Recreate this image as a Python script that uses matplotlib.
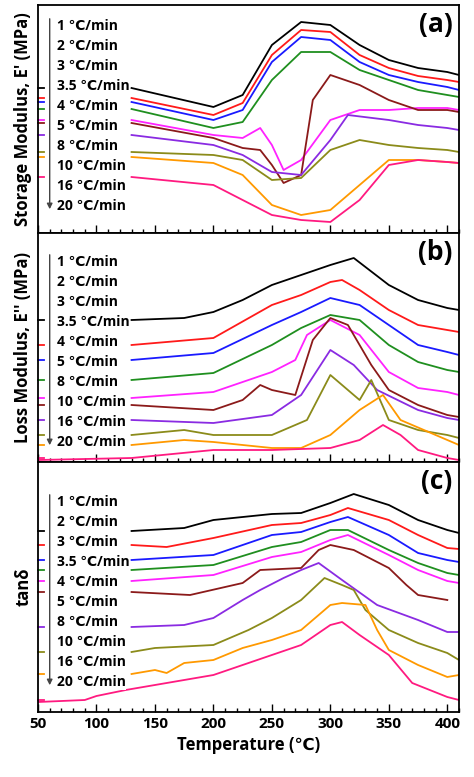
import matplotlib
matplotlib.use("Agg")
import matplotlib.pyplot as plt
import matplotlib.transforms as mtransforms
from matplotlib.ticker import MultipleLocator

plt.rcParams['font.family'] = ['Open Sans', 'DejaVu Sans']
plt.rcParams['font.weight'] = 'bold'

rates = ["1 ℃/min", "2 ℃/min", "3 ℃/min", "3.5 ℃/min", "4 ℃/min",
         "5 ℃/min", "8 ℃/min", "10 ℃/min", "16 ℃/min", "20 ℃/min"]
colors = ["#000000", "#ff1a1a", "#1a1aff", "#1f8f1f", "#ff22ff",
          "#8b1a1a", "#8a2be2", "#8b8b1a", "#ff9900", "#ff1a80"]

# Panel (a) storage modulus (relative level, larger = lower on chart)
a_x = [
 [130,200,225,250,275,300,325,350,375,400,410],
 [130,200,225,250,275,300,325,350,375,400,410],
 [130,200,225,250,275,300,325,350,375,400,410],
 [130,200,225,250,275,300,325,350,375,400,410],
 [130,200,225,240,250,260,275,300,325,350,375,400,410],
 [130,200,225,240,250,260,275,285,300,325,350,375,400,410],
 [130,200,225,250,275,300,315,350,375,400,410],
 [130,200,225,250,275,300,325,350,375,400,410],
 [130,200,225,250,275,300,325,350,375,400,410],
 [130,200,225,250,275,300,325,350,375,400,410],
]
a_y = [
 [88,107,95,45,22,25,45,60,68,72,75],
 [98,115,103,55,30,32,55,68,76,80,82],
 [102,120,110,62,37,40,62,75,82,87,90],
 [109,128,122,80,52,52,70,80,90,95,97],
 [120,135,138,128,145,170,160,120,110,110,108,108,110],
 [123,138,148,150,165,183,175,100,75,85,100,110,110,112],
 [135,145,155,172,175,140,115,120,125,128,130],
 [152,155,160,180,178,150,140,145,148,150,152],
 [157,163,175,205,215,210,185,160,160,162,163],
 [177,185,200,215,220,222,200,165,160,162,163],
]

# Panel (b) loss modulus
b_x = [
 [130,175,200,225,250,275,300,320,350,375,400,410],
 [130,200,250,275,300,310,325,350,375,400,410],
 [130,200,250,275,300,325,350,375,400,410],
 [130,200,250,275,300,325,350,375,400,410],
 [130,200,250,270,280,300,325,350,375,400,410],
 [130,200,225,240,250,270,285,300,315,335,350,375,400,410],
 [130,200,250,275,300,320,340,375,400,410],
 [130,175,200,250,280,300,325,335,350,375,400,410],
 [130,175,200,250,275,300,325,345,360,400,410],
 [50,130,200,250,300,325,345,360,375,400,410],
]
b_y = [
 [320,318,312,300,285,275,265,258,285,300,308,310],
 [345,338,305,295,282,280,290,310,325,330,332],
 [360,353,325,312,298,305,325,345,352,355],
 [380,373,345,328,315,320,345,362,370,372],
 [398,392,372,360,335,320,335,372,388,392,395],
 [405,410,400,385,390,395,340,318,325,365,390,405,415,417],
 [420,423,415,395,350,365,390,410,418,420],
 [435,430,435,435,420,375,400,380,420,430,435,438],
 [445,440,442,448,448,435,410,395,420,440,445],
 [460,458,450,450,448,440,425,435,450,458,460],
]

# Panel (c) tan delta
c_x = [
 [130,175,200,250,275,300,320,350,375,400,410],
 [130,160,200,250,275,300,315,350,375,400,410],
 [130,200,250,275,300,315,350,375,400,410],
 [130,200,250,275,300,315,350,375,400,410],
 [130,200,250,275,300,315,350,375,400,410],
 [130,180,225,240,275,290,300,320,350,365,375,400],
 [130,175,200,225,240,260,275,290,310,340,375,400,410],
 [130,150,200,230,250,275,295,310,320,330,350,375,400,410],
 [130,150,160,175,200,225,250,275,300,310,330,340,350,375,400,410],
 [50,90,100,125,150,175,200,225,250,275,300,310,325,350,370,385,400,410],
]
c_y = [
 [531,528,520,514,513,503,494,505,520,530,533],
 [545,547,538,525,523,515,508,520,535,548,549],
 [560,555,535,532,522,517,535,553,560,562],
 [570,565,547,542,530,530,550,563,573,575],
 [581,575,557,552,540,535,555,570,581,583],
 [592,595,583,570,568,550,545,550,568,585,595,600],
 [627,625,618,600,590,578,570,563,580,605,620,632,632],
 [652,648,645,630,618,600,578,585,590,610,630,643,653,660],
 [674,670,673,663,660,648,640,630,605,603,605,630,650,665,677,675],
 [702,700,696,690,685,680,675,665,655,645,625,622,635,655,683,690,697,700],
]

panels = [
    dict(xs=a_x, ys=a_y, top=5, bot=233, first=26, ylabel="Storage Modulus, E' (MPa)", tag="(a)"),
    dict(xs=b_x, ys=b_y, top=233, bot=462, first=262, ylabel="Loss Modulus, E'' (MPa)", tag="(b)"),
    dict(xs=c_x, ys=c_y, top=462, bot=712, first=502, ylabel="tanδ", tag="(c)"),
]

H = 777.0
fig = plt.figure(figsize=(4.74, 7.77), dpi=100)
left, width = 38/474, (459-38)/474
for i, p in enumerate(panels):
    ax = fig.add_axes([left, 1 - p['bot']/H, width, (p['bot']-p['top'])/H])
    ax.set_xlim(50, 410)
    ax.set_ylim(p['bot'], p['top'])
    tr = mtransforms.blended_transform_factory(ax.transAxes, ax.transData)
    for xs, ys, c in zip(p['xs'], p['ys'], colors):
        ax.plot(xs, ys, color=c, lw=1.3)
        ax.plot([0, 0.014], [ys[0] if xs[0] > 60 else ys[1]]*2, color=c, lw=1.3,
                transform=tr, clip_on=False)
    ax.set_yticks([])
    ax.xaxis.set_major_locator(MultipleLocator(50))
    ax.xaxis.set_minor_locator(MultipleLocator(10))
    ax.tick_params(axis='x', which='major', direction='in', length=6, width=1, labelsize=11)
    ax.tick_params(axis='x', which='minor', direction='in', length=3, width=1)
    for s in ax.spines.values():
        s.set_linewidth(1.3)
    if i < 2:
        ax.tick_params(labelbottom=False)
    else:
        ax.set_xlabel("Temperature (℃)", fontsize=12, fontweight='bold')
    ax.set_ylabel(p['ylabel'], fontsize=12, fontweight='bold', labelpad=4)
    ax.text(0.985, 0.975, p['tag'], transform=ax.transAxes, ha='right', va='top',
            fontsize=19, fontweight='bold')
    y0 = p['first']
    step = 20
    for k, r in enumerate(rates):
        ax.text(66, y0 + k*step, r, fontsize=10, fontweight='bold', va='center', ha='left',
                bbox=dict(facecolor='white', edgecolor='none', pad=0.5))
    ax.annotate("", xy=(60, y0 + 9.3*step), xytext=(60, y0 - 0.5*step),
                arrowprops=dict(arrowstyle='-|>', color='#444444', lw=1.0, mutation_scale=8))

fig.savefig("out.png", dpi=100)
